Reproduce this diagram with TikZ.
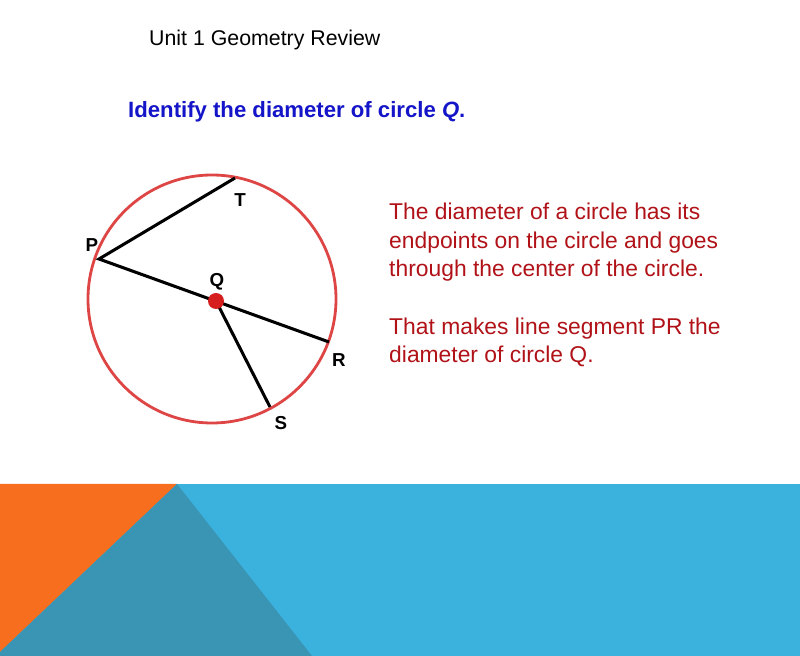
\documentclass[tikz,border=0pt]{standalone}
\usepackage{fontspec}
\setmainfont{Liberation Sans}
\usepackage{xcolor}
\usetikzlibrary{positioning,calc}

\definecolor{ringred}{RGB}{222,70,70}
\definecolor{dotred}{RGB}{215,30,30}
\definecolor{txtred}{RGB}{176,18,24}
\definecolor{txtblue}{RGB}{20,20,200}
\definecolor{bandorange}{RGB}{246,110,30}
\definecolor{bandteal}{RGB}{58,148,180}
\definecolor{bandblue}{RGB}{59,178,222}

\begin{document}
\begin{tikzpicture}[
    x=0.03cm, y=-0.03cm,
    seg/.style={line width=2.6pt, black},
    ptlbl/.style={font=\bfseries\fontsize{16}{18}\selectfont, inner sep=0pt},
    note/.style={font=\fontsize{19.5}{24.6}\selectfont, text=txtred, align=left, anchor=base west, inner sep=0pt},
  ]
  \useasboundingbox (0,0) rectangle (800,656);

  % Bottom band
  \fill[bandblue] (0,484) rectangle (800,656);
  \fill[bandorange] (0,484) -- (177,484) -- (0,652) -- cycle;
  \fill[bandteal] (177,484) -- (312,656) -- (0,656) -- (0,652) -- cycle;

  % Headings
  \node[anchor=base west, inner sep=0pt, font=\fontsize{18.2}{20}\selectfont] (unit) at (149,46) {Unit 1 Geometry Review};
  \node[anchor=base west, inner sep=0pt, font=\bfseries\fontsize{18.9}{22}\selectfont, text=txtblue] (task) at (128,118) {Identify the diameter of circle \textit{Q}.};

  % Circle Q
  \coordinate (Q) at (216,301);
  \draw[ringred, line width=2.4pt] (212,299) circle[radius=124];
  \coordinate (P) at (99,259);
  \coordinate (T) at (235,178);
  \coordinate (R) at (329,342);
  \coordinate (S) at (270,407);
  \draw[seg] (T) -- (P) -- (R);
  \draw[seg] (Q) -- (S);
  \fill[dotred] (Q) circle[radius=8];

  % Labels
  \node[ptlbl] (lT) at (240,200) {T};
  \node[ptlbl] (lP) at (92,245) {P};
  \node[ptlbl] (lQ) at (217,282) {Q};
  \node[ptlbl] (lR) at (339,360) {R};
  \node[ptlbl] (lS) at (281,423) {S};

  % Explanation (base = last line)
  \node[note] (why) at (389,277) {The diameter of a circle has its\\endpoints on the circle and goes\\through the center of the circle.};
  \node[note] (ans) at (389,363) {That makes line segment PR the\\diameter of circle Q.};

\end{tikzpicture}
\end{document}
